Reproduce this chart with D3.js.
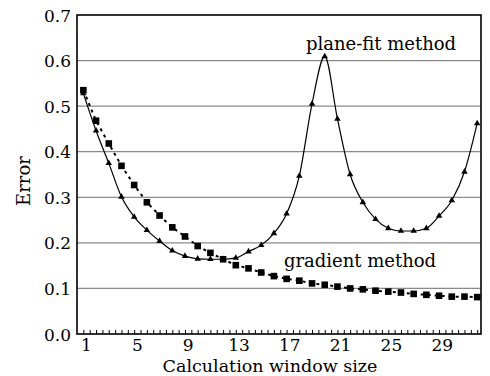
<!DOCTYPE html>
<html>
<head>
<meta charset="utf-8">
<script src="https://d3js.org/d3.v7.min.js"></script>
<style>
  body { margin: 0; background: #fff; }
  text { font-family: "DejaVu Serif", serif; fill: #000; }
</style>
</head>
<body>
<div id="chart"></div>
<script>
const MARGIN = {LEFT: 77, RIGHT: 9, TOP: 15, BOTTOM: 42}
const W = 490, H = 376

// window sizes (x categories)
const windowSize = [1, 2, 3, 4, 5, 6, 7, 8, 9, 10, 11, 12, 13, 14, 15, 16,
                    17, 18, 19, 20, 21, 22, 23, 24, 25, 26, 27, 28, 29, 30, 31, 32]
const planeFit = [0.528, 0.446, 0.375, 0.301, 0.257, 0.228, 0.204, 0.183, 0.171, 0.165, 0.164, 0.164,
                  0.167, 0.181, 0.195, 0.221, 0.264, 0.347, 0.505, 0.609, 0.472, 0.350, 0.289, 0.252,
                  0.232, 0.226, 0.226, 0.232, 0.259, 0.293, 0.356, 0.462]
const gradient = [0.535, 0.468, 0.418, 0.369, 0.327, 0.289, 0.260, 0.234, 0.214, 0.193, 0.178, 0.164,
                  0.151, 0.144, 0.135, 0.127, 0.121, 0.117, 0.111, 0.108, 0.104, 0.100, 0.098, 0.095,
                  0.093, 0.091, 0.088, 0.086, 0.084, 0.082, 0.082, 0.081]
const xTickLabels = [1, 5, 9, 13, 17, 21, 25, 29]
const yTicks = [0.0, 0.1, 0.2, 0.3, 0.4, 0.5, 0.6, 0.7]

const svg = d3.select("#chart").append("svg")
    .attr("width", W)
    .attr("height", H)

const x = d3.scaleLinear()
    .domain([0.5, 32.3])
    .range([MARGIN.LEFT, W - MARGIN.RIGHT])
const y = d3.scaleLinear()
    .domain([0, 0.7])
    .range([H - MARGIN.BOTTOM, MARGIN.TOP])

// grid lines
svg.append("g")
    .selectAll("line")
    .data(yTicks.slice(1, -1))
    .enter().append("line")
    .attr("x1", x.range()[0]).attr("x2", x.range()[1])
    .attr("y1", d => y(d)).attr("y2", d => y(d))
    .attr("stroke", "#8a8a8a")
    .attr("stroke-width", 1.2)

// minor ticks on bottom axis (every half step, pointing inward)
const xAxis = d3.axisBottom(x)
    .tickValues(d3.range(1, 32.01, 0.5))
    .tickSizeInner(-4)
    .tickSizeOuter(0)
    .tickFormat("")
const gx = svg.append("g")
    .attr("transform", `translate(0,${y(0)})`)
    .call(xAxis)
gx.select(".domain").remove()
gx.selectAll("line").attr("stroke", "#000").attr("stroke-width", 1)

// x labels sit a bit right of their category
svg.append("g")
    .selectAll("text")
    .data(xTickLabels)
    .enter().append("text")
    .attr("x", d => x(d + 0.25))
    .attr("y", y(0) + 17)
    .attr("text-anchor", "middle")
    .attr("font-size", 17)
    .text(d => d)

const yAxis = d3.axisLeft(y)
    .tickValues(yTicks)
    .tickSize(0)
    .tickPadding(6)
    .tickFormat(d3.format(".1f"))
const gy = svg.append("g")
    .attr("transform", `translate(${MARGIN.LEFT},0)`)
    .call(yAxis)
gy.select(".domain").remove()
gy.selectAll("text").attr("font-size", 17).attr("font-family", "DejaVu Serif").attr("dy", "0.36em")

// frame
svg.append("rect")
    .attr("x", x.range()[0]).attr("y", y(0.7))
    .attr("width", x.range()[1] - x.range()[0])
    .attr("height", y(0) - y(0.7))
    .attr("fill", "none")
    .attr("stroke", "#000")
    .attr("stroke-width", 1.6)

// gradient method: dashed line + squares
const lineG = d3.line()
    .x((d, i) => x(windowSize[i]))
    .y(d => y(d))
svg.append("path")
    .attr("d", lineG(gradient))
    .attr("fill", "none")
    .attr("stroke", "#000")
    .attr("stroke-width", 2)
    .attr("stroke-dasharray", "3,4")
svg.append("g")
    .selectAll("rect")
    .data(gradient)
    .enter().append("rect")
    .attr("x", (d, i) => x(windowSize[i]) - 3.3)
    .attr("y", d => y(d) - 3.3)
    .attr("width", 6.6)
    .attr("height", 6.6)
    .attr("fill", "#000")

// plane-fit method: smooth line + triangles
const lineP = d3.line()
    .curve(d3.curveMonotoneX)
    .x((d, i) => x(windowSize[i]))
    .y(d => y(d))
svg.append("path")
    .attr("d", lineP(planeFit))
    .attr("fill", "none")
    .attr("stroke", "#000")
    .attr("stroke-width", 1.2)
svg.append("g")
    .selectAll("path")
    .data(planeFit)
    .enter().append("path")
    .attr("d", d3.symbol().type(d3.symbolTriangle).size(18))
    .attr("transform", (d, i) => `translate(${x(windowSize[i])},${y(d)})`)
    .attr("fill", "#000")

// annotations
svg.append("text")
    .attr("x", 381).attr("y", 50)
    .attr("text-anchor", "middle")
    .attr("font-size", 18)
    .text("plane-fit method")
svg.append("text")
    .attr("x", 360).attr("y", 267)
    .attr("text-anchor", "middle")
    .attr("font-size", 18)
    .text("gradient method")

// axis titles
svg.append("text")
    .attr("x", 270).attr("y", 371.5)
    .attr("text-anchor", "middle")
    .attr("font-size", 17.5)
    .text("Calculation window size")
svg.append("text")
    .attr("transform", "translate(30,181) rotate(-90)")
    .attr("text-anchor", "middle")
    .attr("font-size", 18)
    .text("Error")
</script>
</body>
</html>
